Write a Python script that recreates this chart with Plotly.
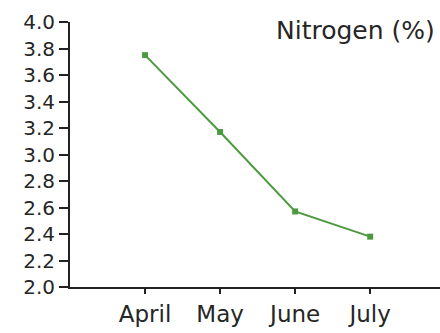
import plotly.graph_objects as go

months = ["April", "May", "June", "July"]
nitrogen = [3.75, 3.17, 2.57, 2.38]
y_ticks = [2.0, 2.2, 2.4, 2.6, 2.8, 3.0, 3.2, 3.4, 3.6, 3.8, 4.0]

green = "#4c9a3f"
ink = "#262626"
family = "DejaVu Sans, Liberation Sans, sans-serif"

fig = go.Figure()
fig.add_trace(go.Scatter(
    x=months, y=nitrogen, mode="lines+markers",
    line=dict(color=green, width=2),
    marker=dict(symbol="square", size=6, color=green),
    showlegend=False,
))

fig.update_layout(
    width=440, height=333,
    margin=dict(l=70, r=0, t=22, b=46),
    paper_bgcolor="white", plot_bgcolor="white",
    font=dict(family=family, color=ink),
    xaxis=dict(
        type="category", range=[-1.0, 3.93],
        showline=True, linecolor="#222", linewidth=2,
        ticks="outside", ticklen=5, tickcolor="#222", tickwidth=1.5,
        showgrid=False, zeroline=False,
        tickfont=dict(family=family, size=23, color=ink),
    ),
    yaxis=dict(
        range=[2.0, 4.0], tickvals=y_ticks,
        ticktext=[f"{v:.1f}" for v in y_ticks],
        showline=True, linecolor="#222", linewidth=2,
        ticks="outside", ticklen=9, tickcolor="#222", tickwidth=1.5,
        showgrid=False, zeroline=False,
        tickfont=dict(family=family, size=20, color=ink),
    ),
    annotations=[dict(
        text="Nitrogen (%)", xref="paper", yref="paper",
        x=0.992, y=1.0, xanchor="right", yanchor="top", yshift=8,
        showarrow=False, font=dict(family=family, size=25, color=ink),
    )],
)

fig.write_html("out.html")
